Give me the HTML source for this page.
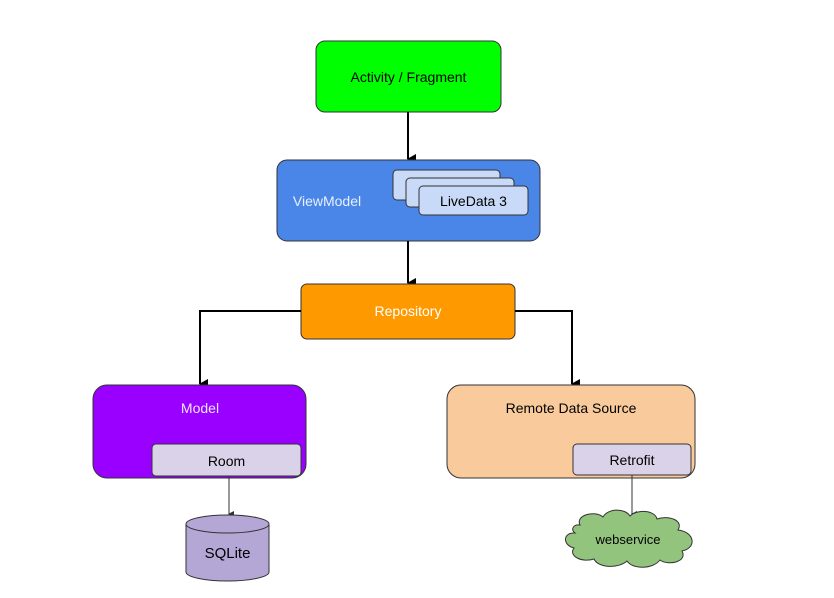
<!DOCTYPE html>
<html><head><meta charset="utf-8"><style>
html,body{margin:0;padding:0;background:#fff;}
svg{display:block;font-family:"Liberation Sans",Arial,sans-serif;}
</style></head><body>
<svg width="834" height="598" viewBox="0 0 834 598" xmlns="http://www.w3.org/2000/svg">
<defs>
<marker id="ah" markerWidth="10" markerHeight="10" refX="5" refY="8" orient="auto" markerUnits="userSpaceOnUse">
<path d="M0,0 L10,0 L5,9 z" fill="#000"/></marker>
<marker id="as" markerWidth="6" markerHeight="6" refX="3" refY="5" orient="auto" markerUnits="userSpaceOnUse">
<path d="M0,0 L6,0 L3,6 z" fill="#333"/></marker>
</defs>
<rect width="834" height="598" fill="#fff"/>
<!-- Activity -->
<rect x="316" y="41" width="185" height="71" rx="9" fill="#00ff00" stroke="#333" stroke-width="1"/>
<text x="408.5" y="82" text-anchor="middle" font-size="14" fill="#000">Activity / Fragment</text>
<line x1="408" y1="112" x2="408" y2="159" stroke="#000" stroke-width="2" marker-end="url(#ah)"/>
<!-- ViewModel -->
<rect x="277" y="160" width="263" height="81" rx="10" fill="#4a86e8" stroke="#333" stroke-width="1"/>
<text x="327" y="206" text-anchor="middle" font-size="14" fill="#e8f0fe">ViewModel</text>
<rect x="393" y="170" width="107" height="30" rx="4" fill="#c9daf8" stroke="#333" stroke-width="1"/>
<rect x="406" y="178" width="108" height="29" rx="4" fill="#c9daf8" stroke="#333" stroke-width="1"/>
<rect x="419" y="186" width="109" height="29" rx="4" fill="#c9daf8" stroke="#333" stroke-width="1"/>
<text x="473.5" y="206" text-anchor="middle" font-size="14" fill="#000">LiveData 3</text>
<line x1="408" y1="241" x2="408" y2="283" stroke="#000" stroke-width="2" marker-end="url(#ah)"/>
<!-- Repository -->
<rect x="301" y="284" width="214" height="55" rx="6" fill="#ff9900" stroke="#333" stroke-width="1"/>
<text x="408" y="316" text-anchor="middle" font-size="14" fill="#fff">Repository</text>
<polyline points="301,311 200,311 200,384" fill="none" stroke="#000" stroke-width="2" marker-end="url(#ah)"/>
<polyline points="515,311 572,311 572,384" fill="none" stroke="#000" stroke-width="2" marker-end="url(#ah)"/>
<!-- Model -->
<rect x="93" y="385" width="213" height="93" rx="14" fill="#9900ff" stroke="#333" stroke-width="1"/>
<text x="200" y="413" text-anchor="middle" font-size="14" fill="#f3e6ff">Model</text>
<rect x="152" y="444" width="149" height="32" rx="4" fill="#d9d2e9" stroke="#333" stroke-width="1"/>
<text x="226.5" y="466" text-anchor="middle" font-size="14" fill="#000">Room</text>
<line x1="229" y1="476" x2="229" y2="514" stroke="#333" stroke-width="1" marker-end="url(#as)"/>
<!-- SQLite -->
<path d="M186,524 L186,572 A41.5,9 0 0 0 269,572 L269,524" fill="#b4a7d6" stroke="#333" stroke-width="1"/>
<ellipse cx="227.5" cy="524" rx="41.5" ry="9" fill="#b4a7d6" stroke="#333" stroke-width="1"/>
<text x="227.5" y="558" text-anchor="middle" font-size="15" fill="#000">SQLite</text>
<!-- Remote -->
<rect x="447" y="385" width="248" height="93" rx="14" fill="#f9cb9c" stroke="#333" stroke-width="1"/>
<text x="571" y="413" text-anchor="middle" font-size="14" fill="#000">Remote Data Source</text>
<rect x="573" y="444" width="118" height="31" rx="4" fill="#d9d2e9" stroke="#333" stroke-width="1"/>
<text x="632" y="465" text-anchor="middle" font-size="14" fill="#000">Retrofit</text>
<line x1="632" y1="475" x2="632" y2="514" stroke="#333" stroke-width="1" marker-end="url(#as)"/>
<!-- cloud -->
<path d="M580,525 C575,515 595,510 603,517 C608,508 625,508 630,516 C637,509 655,510 657,519 C668,515 684,520 678,530 C695,532 697,548 682,551 C688,562 668,566 660,560 C652,570 632,569 627,561 C618,569 598,568 594,559 C582,563 568,556 574,548 C562,545 563,532 575,533 C570,529 574,524 580,525 z" fill="#93c47d" stroke="#333" stroke-width="1"/>
<text x="628" y="544" text-anchor="middle" font-size="13" fill="#000">webservice</text>
</svg>
</body></html>
